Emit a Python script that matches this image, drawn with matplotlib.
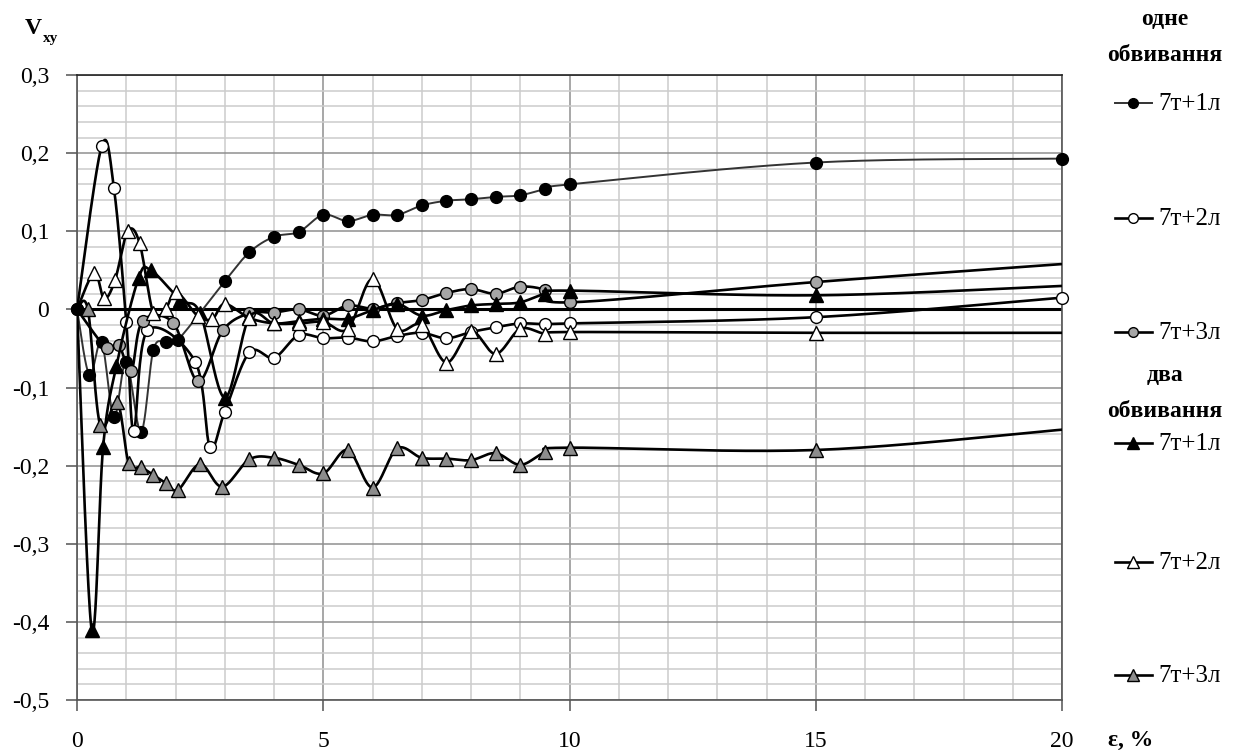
"""
Shear-strain coefficient V_xy vs elongation for wrapped 7-wire strands
(one and two wrappings, 1-3 layers). Rebuilt from a spreadsheet chart.
"""
import matplotlib
matplotlib.use("Agg")
import matplotlib.pyplot as plt
import numpy as np
from matplotlib.lines import Line2D

plt.rcParams["font.family"] = ["Liberation Serif", "DejaVu Serif"]

# ---- data ------------------------------------------------------------------
one_1_x = [0, 0.25, 0.5, 0.75, 1.0, 1.3, 1.55, 1.8, 2.05, 3, 3.5, 4, 4.5, 5, 5.5, 6,
           6.5, 7, 7.5, 8, 8.5, 9, 9.5, 10, 15, 20]
one_1_y = [0, -0.084, -0.042, -0.138, -0.067, -0.157, -0.052, -0.042, -0.039, 0.036,
           0.073, 0.093, 0.099, 0.121, 0.113, 0.121, 0.121, 0.133, 0.139, 0.141,
           0.144, 0.146, 0.154, 0.160, 0.188, 0.193]

one_2_x = [0, 0.5, 0.75, 1.0, 1.15, 1.43, 2.4, 2.7, 3.0, 3.5, 4, 4.5, 5, 5.5, 6, 6.5,
           7, 7.5, 8, 8.5, 9, 9.5, 10, 15, 20]
one_2_y = [0, 0.209, 0.155, -0.016, -0.156, -0.027, -0.067, -0.176, -0.131, -0.055,
           -0.062, -0.033, -0.037, -0.036, -0.041, -0.034, -0.030, -0.037, -0.029,
           -0.023, -0.018, -0.019, -0.018, -0.010, 0.015]

one_3_x = [0, 0.6, 0.85, 1.1, 1.33, 1.95, 2.46, 2.96, 3.5, 4, 4.5, 5, 5.5, 6, 6.5, 7,
           7.5, 8, 8.5, 9, 9.5, 10, 15, 20]
one_3_y = [0, -0.050, -0.046, -0.079, -0.015, -0.017, -0.092, -0.027, -0.005, -0.004,
           0.0, -0.008, 0.005, 0.001, 0.008, 0.012, 0.021, 0.026, 0.020, 0.029, 0.025,
           0.009, 0.035, 0.058]

two_1_x = [0, 0.3, 0.53, 0.8, 1.25, 1.5, 2.1, 2.5, 3.0, 3.5, 4, 4.5, 5, 5.5, 6, 6.5,
           7, 7.5, 8, 8.5, 9, 9.5, 10, 15, 20]
two_1_y = [0, -0.411, -0.176, -0.072, 0.040, 0.050, 0.012, -0.005, -0.113, -0.010,
           -0.018, -0.015, -0.012, -0.012, -0.001, 0.007, -0.008, -0.001, 0.005, 0.007,
           0.009, 0.020, 0.024, 0.018, 0.030]

two_2_x = [0, 0.35, 0.55, 0.77, 1.03, 1.27, 1.55, 1.8, 2.02, 2.46, 2.75, 3.0, 3.5, 4,
           4.5, 5, 5.5, 6, 6.5, 7, 7.5, 8, 8.5, 9, 9.5, 10, 15, 20]
two_2_y = [0, 0.047, 0.014, 0.037, 0.100, 0.085, -0.005, 0.001, 0.022, -0.009, -0.012,
           0.007, -0.011, -0.018, -0.018, -0.016, -0.025, 0.039, -0.025, -0.020,
           -0.068, -0.028, -0.057, -0.025, -0.031, -0.029, -0.030, -0.030]

two_3_x = [0, 0.22, 0.47, 0.82, 1.05, 1.3, 1.55, 1.8, 2.05, 2.5, 2.95, 3.5, 4, 4.5, 5,
           5.5, 6, 6.5, 7, 7.5, 8, 8.5, 9, 9.5, 10, 15, 20]
two_3_y = [0, 0.0, -0.148, -0.119, -0.197, -0.202, -0.212, -0.222, -0.231, -0.198,
           -0.227, -0.192, -0.190, -0.199, -0.210, -0.180, -0.228, -0.178, -0.190,
           -0.191, -0.193, -0.184, -0.199, -0.183, -0.177, -0.180, -0.154]

series_labels = ["7т+1л", "7т+2л", "7т+3л"]
group_titles = [("одне", "обвивання"), ("два", "обвивання")]
y_ticks = [0.3, 0.2, 0.1, 0, -0.1, -0.2, -0.3, -0.4, -0.5]
y_tick_labels = ["0,3", "0,2", "0,1", "0", "-0,1", "-0,2", "-0,3", "-0,4", "-0,5"]
x_ticks = [0, 5, 10, 15, 20]


def _smooth(x, y, steps=24):
    """Spreadsheet-style smoothed line: cubic Bezier through every point."""
    pts = np.column_stack([x, y]).astype(float)
    n = len(pts)
    out = [pts[:1]]
    t = np.linspace(0, 1, steps)[1:, None]
    for i in range(n - 1):
        p0, p1, p2, p3 = pts[max(i - 1, 0)], pts[i], pts[i + 1], pts[min(i + 2, n - 1)]
        c1 = p1 + (p2 - p0) / 6.0
        c2 = p2 - (p3 - p1) / 6.0
        seg = ((1 - t) ** 3) * p1 + 3 * ((1 - t) ** 2) * t * c1 \
            + 3 * (1 - t) * t ** 2 * c2 + t ** 3 * p2
        out.append(seg)
    curve = np.vstack(out)
    return curve[:, 0], curve[:, 1]


STYLES = [
    # (x, y, marker, face, line colour, line width, size, marker at x=0, marker at x=20)
    (one_1_x, one_1_y, "o", "black", "#333333", 1.4, 8.5, True, True),
    (one_2_x, one_2_y, "o", "white", "black", 1.9, 8.5, False, True),
    (one_3_x, one_3_y, "o", "#a6a6a6", "black", 1.9, 8.5, False, False),
    (two_1_x, two_1_y, "^", "black", "black", 1.9, 9.5, False, False),
    (two_2_x, two_2_y, "^", "white", "black", 1.9, 9.5, False, False),
    (two_3_x, two_3_y, "^", "#8c8c8c", "black", 1.9, 9.5, False, False),
]

W, H = 1240, 756
fig = plt.figure(figsize=(W / 100, H / 100), dpi=100)
ax = fig.add_axes([77 / W, 1 - 700 / H, 985 / W, 625 / H])

ax.set_xlim(0, 20)
ax.set_ylim(-0.5, 0.3)

ax.set_xticks(x_ticks)
ax.set_xticklabels([str(v) for v in x_ticks])
ax.set_xticks(np.arange(0, 21, 1), minor=True)
ax.set_yticks(y_ticks)
ax.set_yticklabels(y_tick_labels)
ax.set_yticks(np.arange(-0.5, 0.301, 0.02), minor=True)
ax.tick_params(which="major", direction="out", length=8, width=1.2, color="#606060",
               labelsize=17, pad=12)
ax.tick_params(axis="x", which="major", pad=14)
ax.tick_params(which="minor", length=0)
ax.grid(True, which="minor", color="#cccccc", linewidth=1.1)
ax.grid(True, which="major", color="#8f8f8f", linewidth=1.1)
ax.set_axisbelow(True)
for side in ["left", "bottom", "right", "top"]:
    ax.spines[side].set_color("#555555")
    ax.spines[side].set_linewidth(1.2)
ax.spines["top"].set_color("#222222")

ax.axhline(0, color="black", linewidth=2.2, zorder=2)

for i, (x, y, mk, face, lc, lw, ms, first_marker, last_marker) in enumerate(STYLES):
    sx, sy = _smooth(x, y)
    ax.plot(sx, sy, color=lc, linewidth=lw, zorder=3 + i, solid_joinstyle="round")
    lo = 0 if first_marker else 1
    hi = len(x) if last_marker else len(x) - 1
    ax.plot(x[lo:hi], y[lo:hi], linestyle="none", marker=mk, markersize=ms,
            markerfacecolor=face, markeredgecolor="black", markeredgewidth=1.0,
            zorder=3 + i, clip_on=False)

# the origin point of the first series sits on top of everything
ax.plot(one_1_x[:1], one_1_y[:1], linestyle="none", marker="o", markersize=8.5,
        markerfacecolor="black", markeredgecolor="black", zorder=20, clip_on=False)

# ---- axis titles and side legend (pixel overlay) ---------------------------
ov = fig.add_axes([0, 0, 1, 1])
ov.set_xlim(0, W)
ov.set_ylim(H, 0)
ov.set_axis_off()

ov.text(25, 34, "V", fontsize=17, fontweight="bold", ha="left", va="baseline")
ov.text(43, 42, "xy", fontsize=11, fontweight="bold", ha="left", va="baseline")
ov.text(1108, 746, "ε, %", fontsize=17, fontweight="bold", ha="left", va="baseline")

header_y = [(25, 61), (381, 417)]
entry_y = [[103, 218, 332], [443, 562, 675]]
for g, (top, bottom) in enumerate(group_titles):
    ov.text(1165, header_y[g][0], top, fontsize=17, fontweight="bold", ha="center",
            va="baseline")
    ov.text(1165, header_y[g][1], bottom, fontsize=17, fontweight="bold", ha="center",
            va="baseline")
    for k in range(3):
        x, y, mk, face, lc, lw, ms = STYLES[g * 3 + k][:7]
        yy = entry_y[g][k]
        ov.add_line(Line2D([1115, 1152], [yy, yy], color=lc, linewidth=lw))
        ov.plot([1133], [yy], marker=mk, markersize=ms - 1.5, markerfacecolor=face,
                markeredgecolor="black", markeredgewidth=1.0)
        ov.text(1158, yy + 1, series_labels[k], fontsize=18, ha="left", va="center")

fig.savefig("out.png", dpi=100)
